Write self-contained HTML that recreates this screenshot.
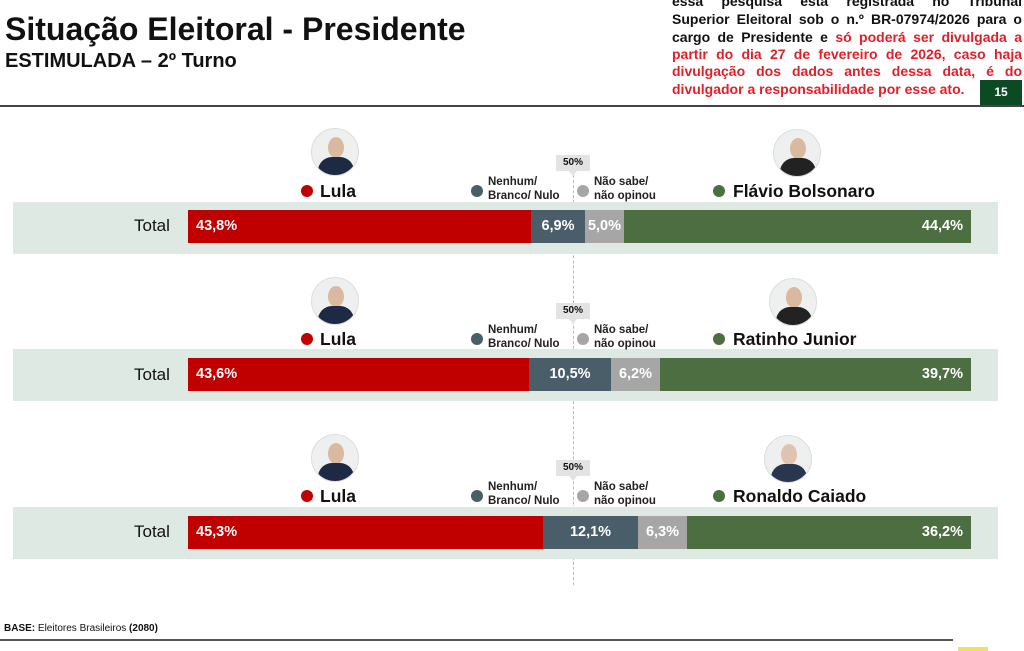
<!DOCTYPE html>
<html><head><meta charset="utf-8"><style>
*{margin:0;padding:0;box-sizing:border-box}
body{width:1024px;height:651px;background:#fff;position:relative;overflow:hidden;font-family:"Liberation Sans",Arial,sans-serif;color:#111}
.a{position:absolute;white-space:nowrap}
.band{position:absolute;left:13px;width:985px;height:52px;background:#dfe9e4}
.seg{position:absolute;height:33px;color:#fff;font-weight:bold;font-size:14.5px;line-height:33px}
.dot{position:absolute;width:12px;height:12px;border-radius:50%}
.nm{position:absolute;font-weight:bold;font-size:17.5px;line-height:20px}
.sm{position:absolute;font-weight:bold;font-size:11.5px;line-height:14px;color:#222}
.ph{position:absolute;width:48px;height:48px;border-radius:50%;background:#eef0f0;overflow:hidden;border:1px solid #ddd}
.ph .s{position:absolute;left:6px;top:28px;width:36px;height:24px;border-radius:14px 14px 0 0;background:#1e2a44}
.ph .f{position:absolute;left:16px;top:8px;width:16px;height:21px;border-radius:50%;background:#d9b9a0}
.tag{position:absolute;left:556px;width:34px;height:16px;background:#e3e3e3;font-size:10px;font-weight:bold;text-align:center;line-height:16px}
.tag:after{content:"";position:absolute;left:13px;top:16px;border-left:4px solid transparent;border-right:4px solid transparent;border-top:5px solid #e3e3e3}
.ln{position:absolute;left:672px;width:350px;height:18px;font-weight:bold;font-size:14px;line-height:18px;text-align:justify;text-align-last:justify;white-space:nowrap}
.r{color:#e0202a}
</style></head><body>
<div class="a" style="left:5px;top:11px;font-size:32px;font-weight:bold">Situação Eleitoral - Presidente</div>
<div class="a" style="left:5px;top:50px;font-size:20px;font-weight:bold">ESTIMULADA – 2º Turno</div>
<div class="ln" style="top:-8px">essa pesquisa está registrada no Tribunal</div>
<div class="ln" style="top:10px">Superior Eleitoral sob o n.º BR-07974/2026 para o</div>
<div class="ln" style="top:28px">cargo de Presidente e <span class="r">só poderá ser divulgada a</span></div>
<div class="ln r" style="top:45px">partir do dia 27 de fevereiro de 2026, caso haja</div>
<div class="ln r" style="top:62px">divulgação dos dados antes dessa data, é do</div>
<div class="ln r" style="top:80px;width:300px;text-align-last:left">divulgador a responsabilidade por esse ato.</div>
<div class="a" style="left:980px;top:80px;width:42px;height:25px;background:#0c4a24;color:#fff;font-weight:bold;font-size:12px;text-align:center;line-height:25px">15</div>
<div class="a" style="left:0;top:105px;width:1024px;height:2px;background:#444"></div>

<div class="a" style="left:573px;top:165px;height:420px;border-left:1px dashed #bbb"></div>

<div class="band" style="top:202px"></div>
<div class="a" style="left:134px;top:216px;font-size:17px">Total</div>
<div class="seg" style="left:188px;top:210px;width:343px;background:#c00000;padding-left:8px">43,8%</div>
<div class="seg" style="left:531px;top:210px;width:54px;background:#4a5e6a;text-align:center">6,9%</div>
<div class="seg" style="left:585px;top:210px;width:39px;background:#a6a6a6;text-align:center">5,0%</div>
<div class="seg" style="left:624px;top:210px;width:347px;background:#4d6e41;text-align:right;padding-right:8px">44,4%</div>
<div class="ph" style="left:311px;top:128px"><div class="f"></div><div class="s"></div></div>
<div class="ph" style="left:773px;top:129px"><div class="f"></div><div class="s" style="background:#222"></div></div>
<div class="tag" style="top:155px">50%</div>
<div class="dot" style="left:301px;top:185px;background:#c00000"></div><div class="nm" style="left:320px;top:181px">Lula</div>
<div class="dot" style="left:471px;top:185px;background:#4a5e6a"></div><div class="sm" style="left:488px;top:175px">Nenhum/<br>Branco/ Nulo</div>
<div class="dot" style="left:577px;top:185px;background:#a6a6a6"></div><div class="sm" style="left:594px;top:175px">Não sabe/<br>não opinou</div>
<div class="dot" style="left:713px;top:185px;background:#4d6e41"></div><div class="nm" style="left:733px;top:181px">Flávio Bolsonaro</div>

<div class="band" style="top:349px"></div>
<div class="a" style="left:134px;top:365px;font-size:17px">Total</div>
<div class="seg" style="left:188px;top:358px;width:341px;background:#c00000;padding-left:8px">43,6%</div>
<div class="seg" style="left:529px;top:358px;width:82px;background:#4a5e6a;text-align:center">10,5%</div>
<div class="seg" style="left:611px;top:358px;width:49px;background:#a6a6a6;text-align:center">6,2%</div>
<div class="seg" style="left:660px;top:358px;width:311px;background:#4d6e41;text-align:right;padding-right:8px">39,7%</div>
<div class="ph" style="left:311px;top:277px"><div class="f"></div><div class="s"></div></div>
<div class="ph" style="left:769px;top:278px"><div class="f"></div><div class="s" style="background:#222"></div></div>
<div class="tag" style="top:303px">50%</div>
<div class="dot" style="left:301px;top:333px;background:#c00000"></div><div class="nm" style="left:320px;top:329px">Lula</div>
<div class="dot" style="left:471px;top:333px;background:#4a5e6a"></div><div class="sm" style="left:488px;top:323px">Nenhum/<br>Branco/ Nulo</div>
<div class="dot" style="left:577px;top:333px;background:#a6a6a6"></div><div class="sm" style="left:594px;top:323px">Não sabe/<br>não opinou</div>
<div class="dot" style="left:713px;top:333px;background:#4d6e41"></div><div class="nm" style="left:733px;top:329px">Ratinho Junior</div>

<div class="band" style="top:507px"></div>
<div class="a" style="left:134px;top:522px;font-size:17px">Total</div>
<div class="seg" style="left:188px;top:516px;width:355px;background:#c00000;padding-left:8px">45,3%</div>
<div class="seg" style="left:543px;top:516px;width:95px;background:#4a5e6a;text-align:center">12,1%</div>
<div class="seg" style="left:638px;top:516px;width:49px;background:#a6a6a6;text-align:center">6,3%</div>
<div class="seg" style="left:687px;top:516px;width:284px;background:#4d6e41;text-align:right;padding-right:8px">36,2%</div>
<div class="ph" style="left:311px;top:434px"><div class="f"></div><div class="s"></div></div>
<div class="ph" style="left:764px;top:435px"><div class="f" style="background:#e0c2b0"></div><div class="s" style="background:#2a3550"></div></div>
<div class="tag" style="top:460px">50%</div>
<div class="dot" style="left:301px;top:490px;background:#c00000"></div><div class="nm" style="left:320px;top:486px">Lula</div>
<div class="dot" style="left:471px;top:490px;background:#4a5e6a"></div><div class="sm" style="left:488px;top:480px">Nenhum/<br>Branco/ Nulo</div>
<div class="dot" style="left:577px;top:490px;background:#a6a6a6"></div><div class="sm" style="left:594px;top:480px">Não sabe/<br>não opinou</div>
<div class="dot" style="left:713px;top:490px;background:#4d6e41"></div><div class="nm" style="left:733px;top:486px">Ronaldo Caiado</div>

<div class="a" style="left:4px;top:623px;font-size:10px"><b>BASE:</b> Eleitores Brasileiros <b>(2080)</b></div>
<div class="a" style="left:0;top:639px;width:953px;height:2px;background:#555"></div>
<div class="a" style="left:958px;top:647px;width:30px;height:4px;background:#f0e060"></div>
</body></html>
